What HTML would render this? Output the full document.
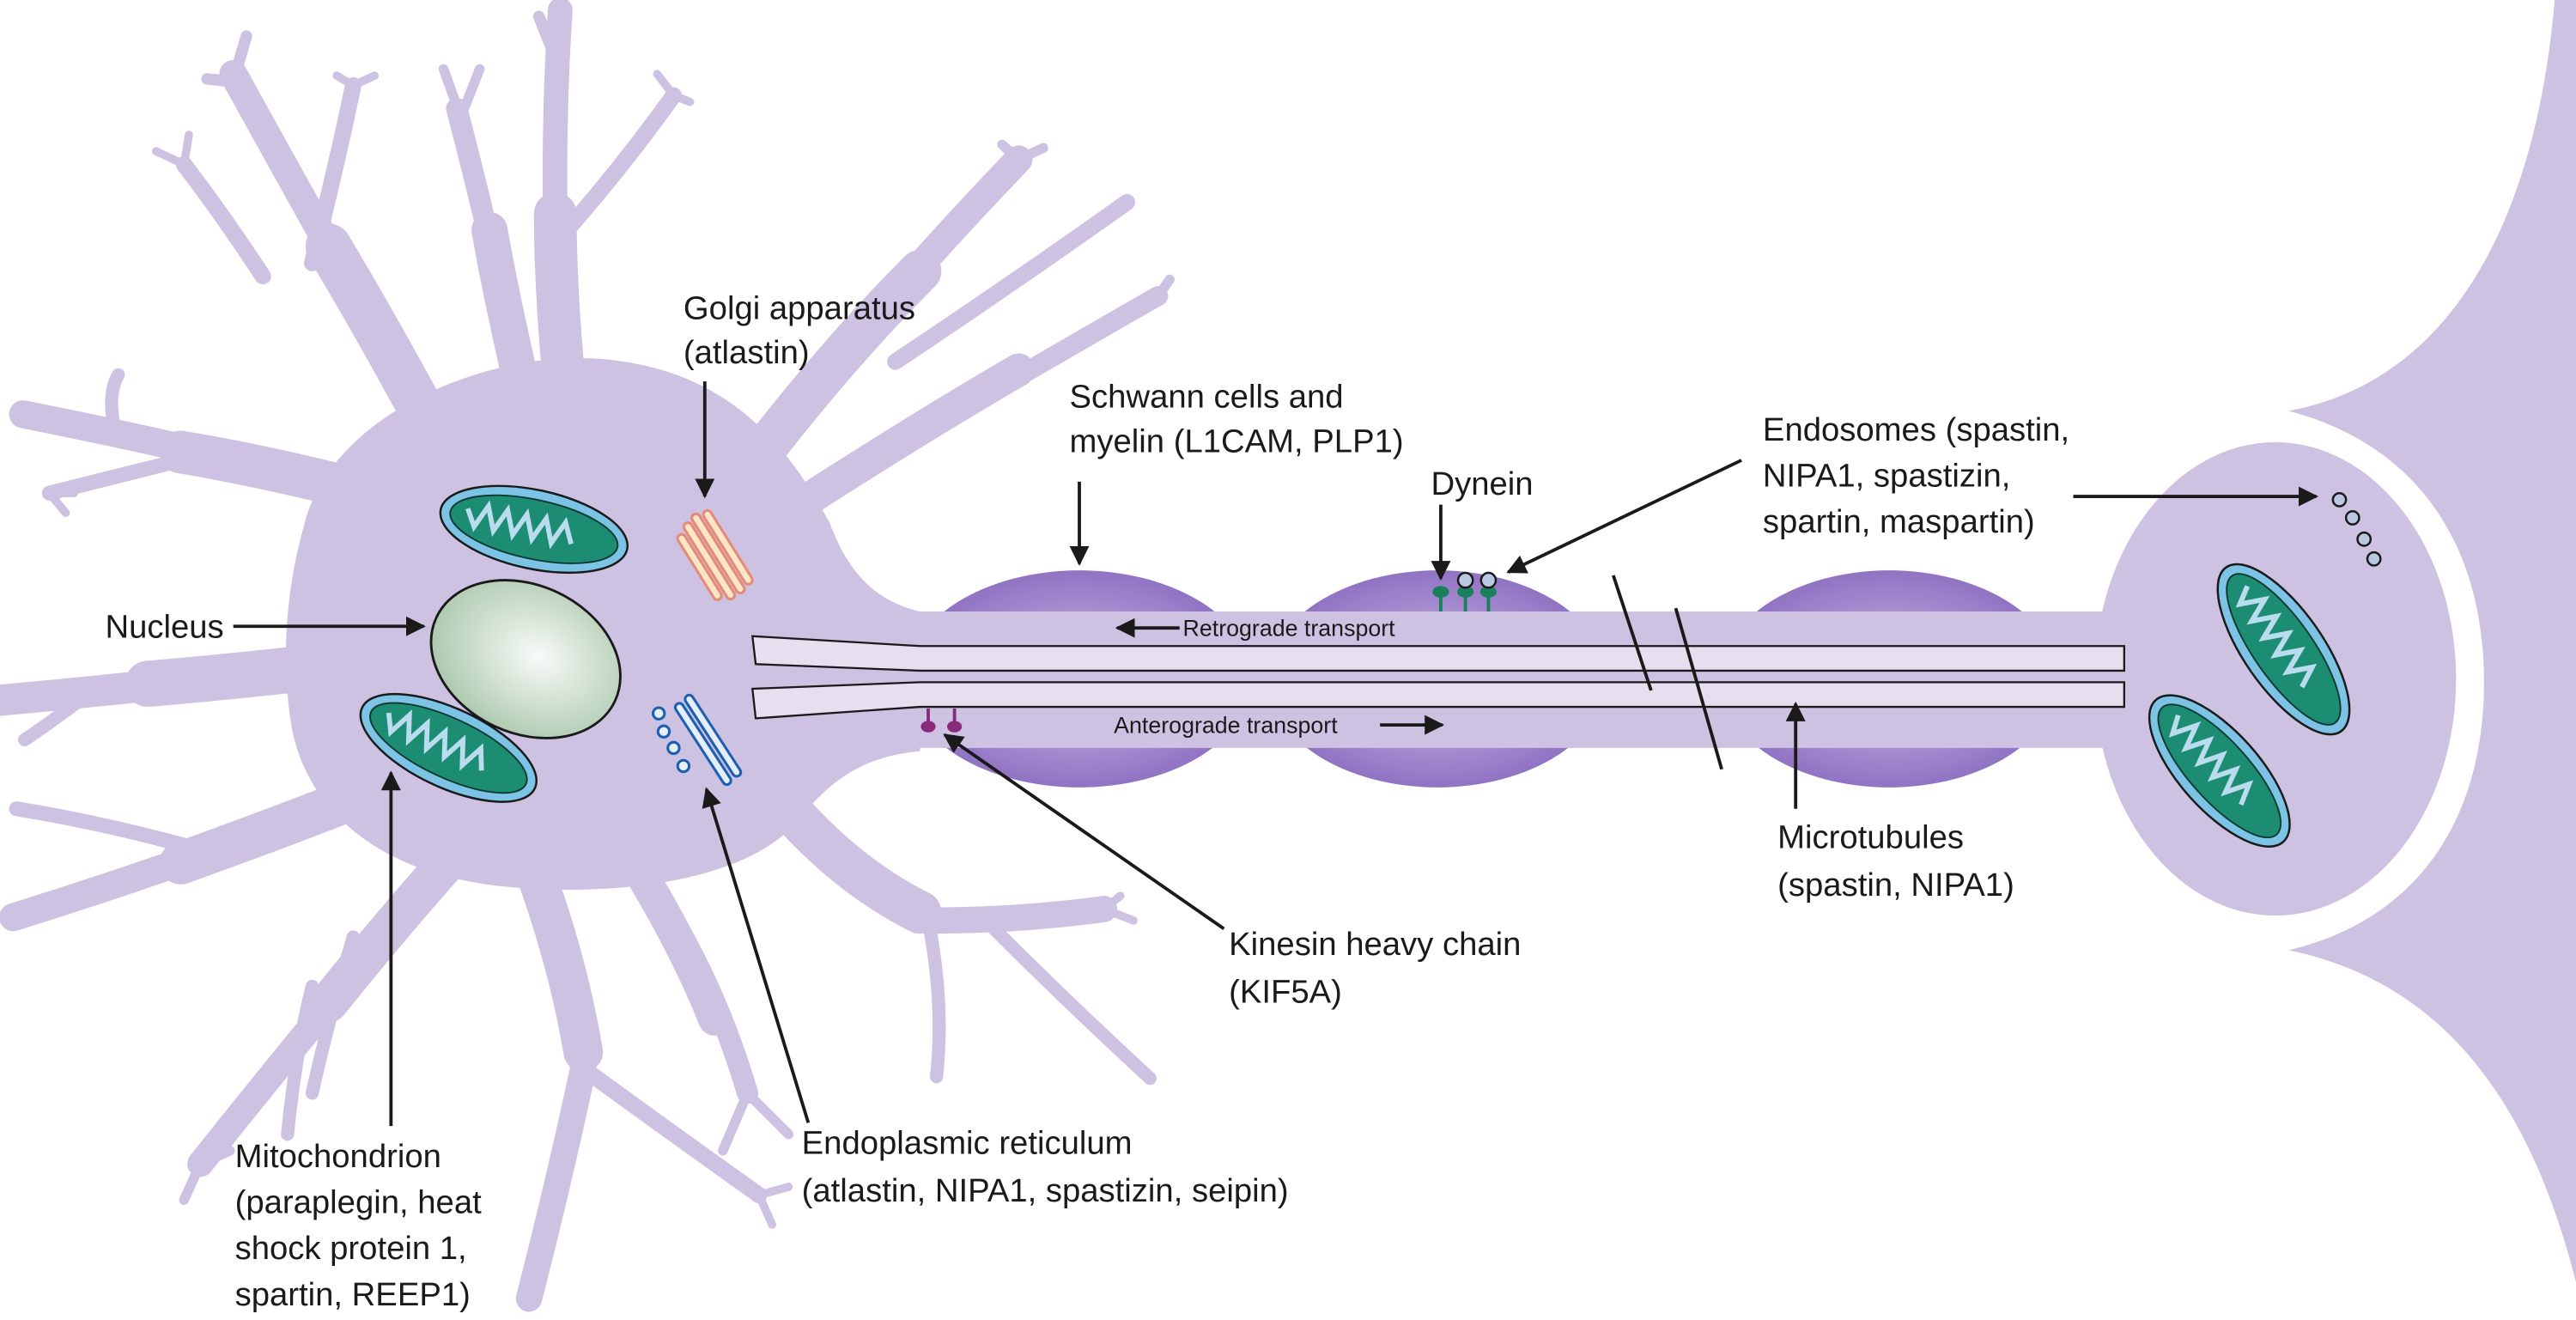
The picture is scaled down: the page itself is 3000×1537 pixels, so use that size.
<!DOCTYPE html>
<html><head><meta charset="utf-8"><style>
html,body{margin:0;padding:0;background:#fff;}
svg{display:block;}
text{font-family:"Liberation Sans",sans-serif;fill:#1a1a1a;}
</style></head><body>
<svg width="3000" height="1537" viewBox="0 0 1568 803" preserveAspectRatio="none" xmlns="http://www.w3.org/2000/svg">
<defs>
<radialGradient id="nuc" cx="0.55" cy="0.45" r="0.6"><stop offset="0" stop-color="#f8fbf8"/><stop offset="1" stop-color="#a9c6ab"/></radialGradient>
<radialGradient id="my" cx="0.5" cy="0.5" r="0.55"><stop offset="0" stop-color="#c7b6e2"/><stop offset="0.6" stop-color="#a58cd0"/><stop offset="1" stop-color="#8a6cbf"/></radialGradient>
<marker id="ah" viewBox="0 0 10 10" refX="9" refY="5" markerWidth="6" markerHeight="6" orient="auto-start-reverse" markerUnits="strokeWidth"><path d="M0,0 L10,5 L0,10z" fill="#1a1a1a"/></marker>
<g id="mA">
<ellipse cx="0" cy="0" rx="58" ry="24" fill="#7cc3e6" stroke="#1a1a1a" stroke-width="1.3"/>
<ellipse cx="0" cy="0" rx="52" ry="18" fill="#1c8c72" stroke="#0d3b30" stroke-width="1"/>
<path d="M-42,-4 l6,10 l6,-14 l6,14 l6,-14 l6,14 l6,-14 l6,14 l6,-14 l6,14 l6,-14 l6,12" fill="none" stroke="#b9dcef" stroke-width="3"/>
</g>
</defs>
<g fill="none" stroke="#cdc2e2" stroke-linecap="round" stroke-linejoin="round">
<!-- dendrite bases (thick) -->
<path d="M345,250 Q338,180 338,130" stroke-width="26"/>
<path d="M320,245 Q305,180 298,140" stroke-width="22"/>
<path d="M265,265 Q230,200 200,150" stroke-width="28"/>
<path d="M245,305 Q170,285 110,275" stroke-width="26"/>
<path d="M243,400 Q160,410 90,416" stroke-width="28"/>
<path d="M255,470 Q180,500 110,525" stroke-width="26"/>
<path d="M285,510 Q240,560 200,610" stroke-width="24"/>
<path d="M320,515 Q345,580 355,640" stroke-width="24"/>
<path d="M380,515 Q415,570 435,620" stroke-width="20"/>
<path d="M470,480 Q510,530 560,555" stroke-width="26"/>
<path d="M460,280 Q510,215 560,165" stroke-width="26"/>
<path d="M490,305 Q560,260 620,225" stroke-width="20"/>
<!-- dendrites -->
<path d="M345,250 Q333,130 341,6" stroke-width="15"/>
<path d="M340,40 L328,10" stroke-width="7"/>
<path d="M345,140 Q380,100 410,58" stroke-width="10"/>
<path d="M410,58 L400,45 M410,58 L420,62" stroke-width="5"/>
<path d="M320,245 Q300,150 278,66" stroke-width="13"/>
<path d="M280,70 L270,42 M281,70 L292,42" stroke-width="6"/>
<path d="M265,265 Q200,150 142,45" stroke-width="17"/>
<path d="M145,50 L126,48 M143,46 L150,22" stroke-width="7"/>
<path d="M190,160 Q205,100 215,52" stroke-width="10"/>
<path d="M215,52 L205,46 M215,52 L228,46" stroke-width="5"/>
<path d="M160,168 Q135,130 112,100" stroke-width="10"/>
<path d="M112,100 L95,92 M112,100 L115,82" stroke-width="5"/>
<path d="M245,305 Q130,275 14,252" stroke-width="17"/>
<path d="M70,262 Q65,240 72,228" stroke-width="8"/>
<path d="M110,280 Q70,290 30,300" stroke-width="9"/>
<path d="M30,300 L40,312 M30,300 L45,300" stroke-width="5"/>
<path d="M243,400 Q120,415 0,426" stroke-width="19"/>
<path d="M50,425 Q30,440 15,450" stroke-width="8"/>
<path d="M255,470 Q130,520 8,558" stroke-width="17"/>
<path d="M115,515 Q60,500 10,492" stroke-width="9"/>
<path d="M60,540 L30,555" stroke-width="6"/>
<path d="M285,510 Q200,610 122,708" stroke-width="16"/>
<path d="M190,600 Q180,640 175,690" stroke-width="8"/>
<path d="M215,570 Q200,620 190,665" stroke-width="8"/>
<path d="M122,708 L112,730 M122,708 L140,700" stroke-width="6"/>
<path d="M320,515 Q350,600 355,650 Q340,720 322,790" stroke-width="16"/>
<path d="M355,650 Q410,690 462,727" stroke-width="10"/>
<path d="M462,727 L470,745 M462,727 L480,722" stroke-width="5"/>
<path d="M380,515 Q430,580 455,665" stroke-width="13"/>
<path d="M455,665 L440,700 M455,665 L480,690" stroke-width="6"/>
<path d="M470,480 Q520,540 565,560 Q620,560 672,553" stroke-width="16"/>
<path d="M565,560 Q575,610 570,655" stroke-width="8"/>
<path d="M600,560 Q650,610 700,656" stroke-width="8"/>
<path d="M672,553 L682,545 M672,553 L690,560" stroke-width="5"/>
<path d="M460,280 Q540,180 620,97" stroke-width="17"/>
<path d="M620,97 L610,88 M620,97 L635,90" stroke-width="6"/>
<path d="M545,220 Q620,170 686,123" stroke-width="10"/>
<path d="M500,300 Q600,240 705,180" stroke-width="12"/>
<path d="M705,180 L712,170" stroke-width="6"/>
</g>
<!-- cell body -->
<path d="M185,320 C200,255 290,215 360,218 C435,222 475,262 505,318 C515,345 530,365 560,372 L560,457 C525,460 505,475 485,500 C455,535 380,545 315,540 C240,535 190,500 178,445 C170,400 175,355 185,320 Z" fill="#cdc2e2"/>
<!-- myelin -->
<ellipse cx="657" cy="413" rx="105" ry="66" fill="url(#my)"/>
<ellipse cx="875" cy="413" rx="103" ry="66" fill="url(#my)"/>
<ellipse cx="1150" cy="413" rx="103" ry="66" fill="url(#my)"/>
<!-- axon -->
<rect x="470" y="372" width="815" height="83" fill="#cdc2e2"/>
<!-- terminal -->
<ellipse cx="1385" cy="413" rx="110" ry="144" fill="#cdc2e2"/>
<!-- post cell -->
<path d="M1568,0 L1555,0 C1545,120 1500,230 1393,250 C1470,270 1512,330 1512,415 C1512,500 1470,560 1393,578 C1500,600 1545,690 1568,780 Z" fill="#cdc2e2"/>
<!-- microtubules -->
<path d="M458,387 L560,393 L1293,393 L1293,408 L560,408 L460,404 Z" fill="#e6dff0" stroke="#1a1a1a" stroke-width="1.2"/>
<path d="M458,419 L560,415 L1293,415 L1293,430 L560,430 L460,437 Z" fill="#e6dff0" stroke="#1a1a1a" stroke-width="1.2"/>
<!-- break lines -->
<line x1="982" y1="350" x2="1005" y2="420" stroke="#1a1a1a" stroke-width="2"/>
<line x1="1020" y1="370" x2="1048" y2="468" stroke="#1a1a1a" stroke-width="2"/>
<!-- nucleus -->
<ellipse cx="320" cy="401" rx="60" ry="45" transform="rotate(25 320 401)" fill="url(#nuc)" stroke="#1a1a1a" stroke-width="1.5"/>
<!-- mitochondria -->
<use href="#mA" transform="translate(325,322) rotate(12)"/>
<use href="#mA" transform="translate(273,455) rotate(25)"/>
<use href="#mA" transform="translate(1390,395) rotate(55) scale(1.05,1)"/>
<use href="#mA" transform="translate(1351,469) rotate(48)"/>
<!-- golgi -->
<g transform="translate(435,338) rotate(58)" fill="#fbe6c6" stroke="#e48a78" stroke-width="1.6">
<rect x="-26" y="-12" width="52" height="5" rx="2.5"/>
<rect x="-28" y="-5" width="56" height="5" rx="2.5"/>
<rect x="-26" y="2" width="54" height="5" rx="2.5"/>
<rect x="-22" y="9" width="46" height="5" rx="2.5"/>
</g>
<!-- ER -->
<g fill="#e6eef9" stroke="#1d5fb0" stroke-width="1.6">
<rect x="-28" y="-3" width="58" height="5" rx="2.5" transform="translate(427,452) rotate(57)"/>
<rect x="-28" y="-3" width="58" height="5" rx="2.5" transform="translate(433,447) rotate(57)"/>
<circle cx="401" cy="434" r="3.5"/><circle cx="404" cy="445" r="3.5"/><circle cx="410" cy="455" r="3.5"/><circle cx="416" cy="466" r="3.5"/>
</g>
<!-- dynein -->
<g stroke="#1b7f5c" stroke-width="2" fill="#1b7f5c">
<line x1="877" y1="360" x2="877" y2="372"/><ellipse cx="877" cy="360" rx="4" ry="2.5"/>
<line x1="892" y1="360" x2="892" y2="372"/><ellipse cx="892" cy="360" rx="4" ry="2.5"/>
<line x1="906" y1="360" x2="906" y2="372"/><ellipse cx="906" cy="360" rx="4" ry="2.5"/>
</g>
<circle cx="892" cy="353" r="4.5" fill="#b9c8e0" stroke="#1a1a1a" stroke-width="1.3"/>
<circle cx="906" cy="353" r="4.5" fill="#b9c8e0" stroke="#1a1a1a" stroke-width="1.3"/>
<!-- kinesin -->
<g stroke="#8a2a7a" stroke-width="2" fill="#8a2a7a">
<line x1="565" y1="431" x2="565" y2="441"/><ellipse cx="565" cy="442" rx="3.5" ry="2.5"/>
<line x1="581" y1="431" x2="581" y2="441"/><ellipse cx="581" cy="442" rx="3.5" ry="2.5"/>
</g>
<!-- endosomes -->
<g fill="#b9c8e0" stroke="#1a1a1a" stroke-width="1.3">
<circle cx="1424" cy="304" r="4"/><circle cx="1432" cy="315" r="4"/><circle cx="1439" cy="328" r="4"/><circle cx="1445" cy="340" r="4"/>
</g>
<!-- arrows -->
<g stroke="#1a1a1a" stroke-width="2" marker-end="url(#ah)" fill="none">
<line x1="429" y1="232" x2="429" y2="302"/>
<line x1="657" y1="293" x2="657" y2="343"/>
<line x1="877" y1="307" x2="877" y2="352"/>
<line x1="1060" y1="280" x2="918" y2="348"/>
<line x1="1262" y1="302" x2="1410" y2="302"/>
<line x1="142" y1="381" x2="258" y2="381"/>
<line x1="238" y1="685" x2="238" y2="470"/>
<line x1="492" y1="683" x2="430" y2="480"/>
<line x1="745" y1="565" x2="575" y2="447"/>
<line x1="1093" y1="492" x2="1093" y2="428"/>
<line x1="718" y1="382" x2="680" y2="382"/>
<line x1="840" y1="441" x2="878" y2="441"/>
</g>
<!-- labels -->
<g font-size="20">
<text x="416" y="194">Golgi apparatus</text>
<text x="416" y="221">(atlastin)</text>
<text x="651" y="248">Schwann cells and</text>
<text x="651" y="275">myelin (L1CAM, PLP1)</text>
<text x="871" y="301">Dynein</text>
<text x="1073" y="268">Endosomes (spastin,</text>
<text x="1073" y="296">NIPA1, spastizin,</text>
<text x="1073" y="324">spartin, maspartin)</text>
<text x="64" y="388">Nucleus</text>
<text x="1082" y="516">Microtubules</text>
<text x="1082" y="545">(spastin, NIPA1)</text>
<text x="748" y="581">Kinesin heavy chain</text>
<text x="748" y="610">(KIF5A)</text>
<text x="488" y="702">Endoplasmic reticulum</text>
<text x="488" y="731">(atlastin, NIPA1, spastizin, seipin)</text>
<text x="143" y="710">Mitochondrion</text>
<text x="143" y="738">(paraplegin, heat</text>
<text x="143" y="766">shock protein 1,</text>
<text x="143" y="794">spartin, REEP1)</text>
</g>
<text x="720" y="387" font-size="14">Retrograde transport</text>
<text x="678" y="446" font-size="14">Anterograde transport</text>
</svg>
</body></html>
